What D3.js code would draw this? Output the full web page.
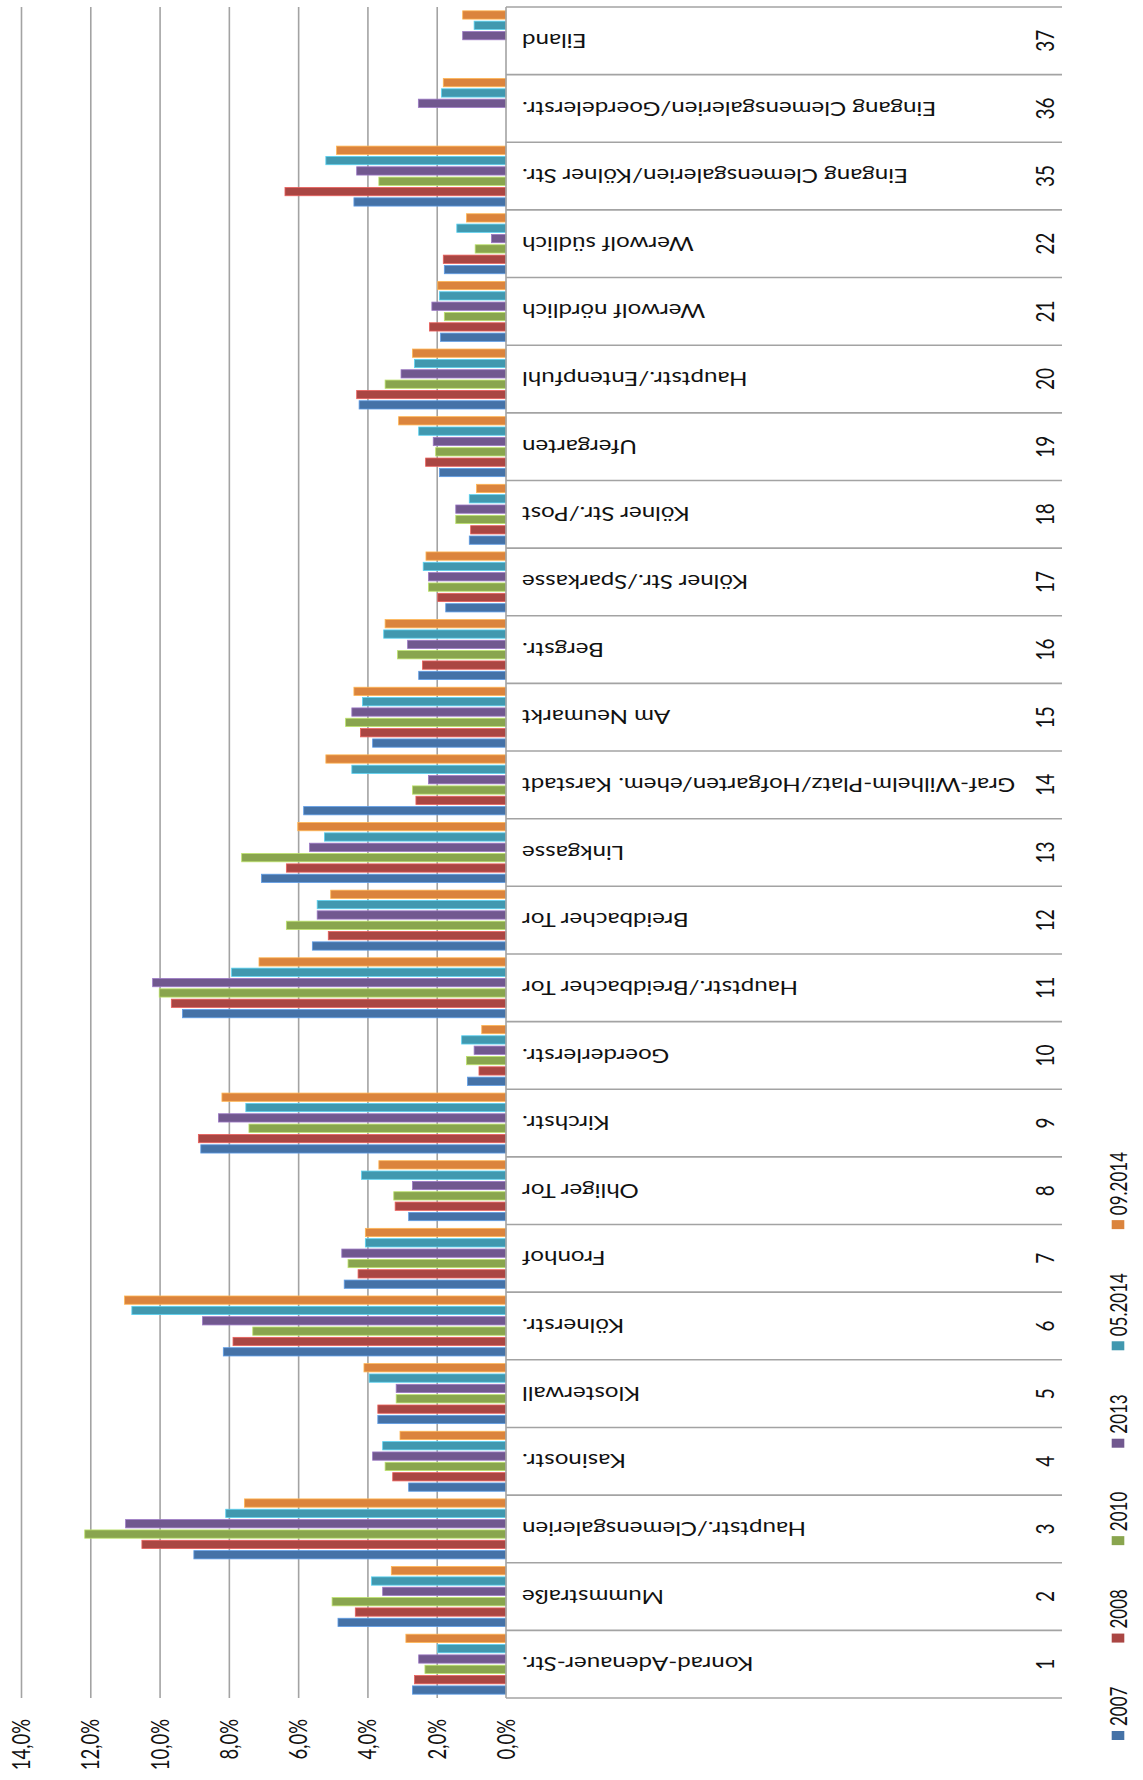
<!DOCTYPE html>
<html><head><meta charset="utf-8">
<script src="https://cdn.jsdelivr.net/npm/d3@7"></script>
<style>
html,body{margin:0;padding:0;background:#fff;}
svg{display:block;}
text{font-family:Lato,"Open Sans","Liberation Sans",sans-serif;fill:#111;}
</style></head>
<body>
<svg id="chart" width="1143" height="1780"></svg>
<script>
const categoryNumbers = ["1","2","3","4","5","6","7","8","9","10","11","12","13","14","15","16","17","18","19","20","21","22","35","36","37"];
const categoryNames = ["Konrad-Adenauer-Str.","Mummstraße","Hauptstr./Clemensgalerien","Kasinostr.","Klosterwall","Kölnerstr.","Fronhof","Ohliger Tor","Kirchstr.","Goerderlerstr.","Hauptstr./Breidbacher Tor","Breidbacher Tor","Linkgasse","Graf-Wilhelm-Platz/Hofgarten/ehem. Karstadt","Am Neumarkt","Bergstr.","Kölner Str./Sparkasse","Kölner Str./Post","Ufergarten","Hauptstr./Entenpfuhl","Werwolf nördlich","Werwolf südlich","Eingang Clemensgalerien/Kölner Str.","Eingang Clemensgalerien/Goerdelerstr.","Eiland"];
const seriesNames = ["2007","2008","2010","2013","05.2014","09.2014"];
const seriesColors = ["#4572A7","#AA4643","#89A54E","#71588F","#4198AF","#DB843D"];
const v2007 = [2.70,4.85,9.01,2.81,3.70,8.16,4.67,2.81,8.81,1.11,9.34,5.59,7.06,5.84,3.85,2.52,1.74,1.06,1.92,4.24,1.89,1.78,4.39,null,null];
const v2008 = [2.64,4.35,10.51,3.27,3.70,7.88,4.27,3.20,8.88,0.78,9.66,5.13,6.34,2.60,4.20,2.41,1.97,1.02,2.32,4.31,2.21,1.81,6.38,null,null];
const v2010 = [2.34,5.02,12.16,3.49,3.17,7.31,4.56,3.24,7.42,1.14,10.01,6.34,7.63,2.70,4.63,3.13,2.24,1.45,2.03,3.49,1.78,0.89,3.67,null,null];
const v2013 = [2.52,3.56,10.98,3.85,3.17,8.76,4.74,2.70,8.30,0.92,10.20,5.45,5.67,2.24,4.45,2.84,2.24,1.45,2.10,3.03,2.14,0.42,4.31,2.53,1.25];
const v052014 = [1.97,3.88,8.09,3.56,3.95,10.80,4.06,4.17,7.51,1.28,7.92,5.45,5.24,4.45,4.14,3.53,2.39,1.06,2.52,2.64,1.92,1.42,5.20,1.86,0.92];
const v092014 = [2.89,3.31,7.55,3.06,4.10,11.01,4.06,3.67,8.20,0.70,7.13,5.06,6.01,5.20,4.39,3.49,2.31,0.85,3.10,2.70,1.97,1.14,4.89,1.81,1.25];
const seriesValues = [v2007,v2008,v2010,v2013,v052014,v092014];
const tickValues = [0,2,4,6,8,10,12,14];
const tickLabels = ["0,0%","2,0%","4,0%","6,0%","8,0%","10,0%","12,0%","14,0%"];

(function(){
const svg = d3.select("#chart");
const plotTop = 7, plotBottom = 1698, axisX = 506, sepEnd = 1062;
const SX = 1.3; // horizontal glyph stretch of the reference

const x = d3.scaleLinear().domain([0,14]).range([axisX, 21]);
const y0 = d3.scaleBand().domain(categoryNumbers.slice().reverse()).range([plotTop, plotBottom]).padding(0);
const y1 = d3.scaleBand().domain(seriesNames.slice().reverse()).range([0, y0.bandwidth()]).paddingInner(0.2).paddingOuter(0.37);

// gridlines
const grid = svg.append("g").attr("transform",`translate(0,${plotBottom})`)
  .call(d3.axisBottom(x).tickValues(tickValues.slice(1)).tickSize(-(plotBottom-plotTop)).tickFormat(""));
grid.select(".domain").remove();
grid.selectAll(".tick line").attr("stroke","#a3a3a3").attr("stroke-width",1.6);

// bars
seriesNames.forEach((s,si)=>{
  const data = categoryNumbers.map((c,i)=>({c, v:seriesValues[si][i]})).filter(d=>d.v!=null);
  svg.append("g").selectAll("rect").data(data).join("rect")
    .attr("x",d=>x(d.v)).attr("width",d=>x(0)-x(d.v))
    .attr("y",d=>y0(d.c)+y1(s)).attr("height",y1.bandwidth())
    .attr("fill",seriesColors[si])
    .attr("stroke",d3.color(seriesColors[si]).brighter(0.9)).attr("stroke-width",0.8);
});

// category axis line and separators
svg.append("line").attr("x1",axisX).attr("x2",axisX).attr("y1",plotTop).attr("y2",plotBottom)
  .attr("stroke","#a3a3a3").attr("stroke-width",1.6);
const bounds = categoryNumbers.map(c=>y0(c)).concat([plotBottom]);
svg.append("g").selectAll("line").data(bounds).join("line")
  .attr("x1",axisX).attr("x2",sepEnd).attr("y1",d=>d).attr("y2",d=>d)
  .attr("stroke","#a3a3a3").attr("stroke-width",1.6);

// value tick labels (rotated)
svg.append("g").selectAll("text").data(tickValues).join("text")
  .attr("transform",(d)=>`translate(${x(d)},1719) scale(${SX},1) rotate(-90)`)
  .attr("text-anchor","end").attr("dominant-baseline","central")
  .style("font-size","18.5px").text((d,i)=>tickLabels[i]);

// category names (upside down)
svg.append("g").selectAll("text").data(categoryNumbers).join("text")
  .attr("transform",d=>`translate(522,${y0(d)+y0.bandwidth()/2}) scale(${SX},1) rotate(180)`)
  .attr("text-anchor","end").attr("dominant-baseline","central")
  .style("font-size","18.6px").text((d,i)=>categoryNames[i]);

// category numbers
svg.append("g").selectAll("text").data(categoryNumbers).join("text")
  .attr("transform",d=>`translate(1044,${y0(d)+y0.bandwidth()/2}) scale(${SX},1) rotate(-90)`)
  .attr("text-anchor","middle").attr("dominant-baseline","central")
  .style("font-size","19px").text(d=>d);

// legend (rotated, from bottom upwards)
const lg = svg.append("g");
let cursor = 1740;
const sq = 9, legX = 1118, LSX = 1.4;
seriesNames.forEach((s,si)=>{
  lg.append("rect").attr("x",legX-sq*LSX/2).attr("y",cursor-sq).attr("width",sq*LSX).attr("height",sq)
    .attr("fill",seriesColors[si]);
  const t = lg.append("text")
    .attr("transform",`translate(${legX},${cursor-sq-5}) scale(${LSX},1) rotate(-90)`)
    .attr("text-anchor","start").attr("dominant-baseline","central")
    .style("font-size","17px").text(s);
  const len = t.node().getComputedTextLength();
  cursor = cursor - sq - 5 - len - 44;
});
})();
</script>
</body></html>
